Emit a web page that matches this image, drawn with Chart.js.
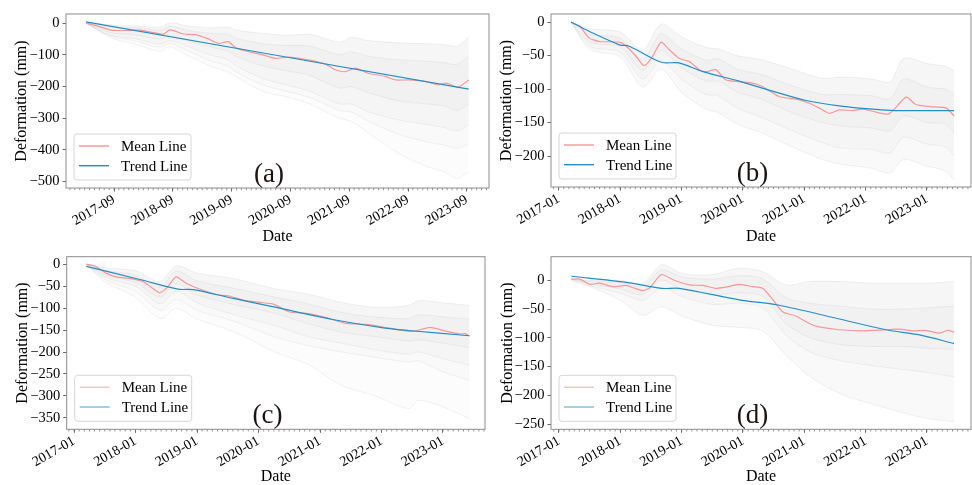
<!DOCTYPE html>
<html><head><meta charset="utf-8">
<script src="https://cdn.jsdelivr.net/npm/chart.js@4.4.1/dist/chart.umd.min.js"></script>
<style>
html,body{margin:0;padding:0;background:#fff;width:972px;height:485px;overflow:hidden;position:relative}
canvas{position:absolute}
</style></head><body>
<script>
// ---------------- DATA ----------------
const seriesNames = ['Mean Line', 'Trend Line'];
const panelLabels = ['(a)', '(b)', '(c)', '(d)'];
const yTitle = 'Deformation (mm)';
const xTitle = 'Date';

const xTickLabelsA = ['2017-09','2018-09','2019-09','2020-09','2021-09','2022-09','2023-09'];
const xTickLabelsBCD = ['2017-01','2018-01','2019-01','2020-01','2021-01','2022-01','2023-01'];
const yTicksA = [0,-100,-200,-300,-400,-500];
const yTicksB = [0,-50,-100,-150,-200];
const yTicksC = [0,-50,-100,-150,-200,-250,-300,-350];
const yTicksD = [0,-50,-100,-150,-200,-250];

// ---- panel (a) ----
const meanDatesA = [2017.19,2017.40,2017.62,2017.85,2018.10,2018.35,2018.50,2018.62,2018.85,2019.05,2019.25,2019.45,2019.61,2019.74,2020.00,2020.20,2020.41,2020.63,2020.97,2021.26,2021.43,2021.60,2021.77,2021.99,2022.28,2022.45,2022.67,2022.96,2023.18,2023.32,2023.52,2023.70];
const meanA = [1,-10,-22,-23,-22,-30,-35,-21,-34,-36,-48,-64,-58,-78,-92,-100,-111,-107,-116,-129,-147,-153,-142,-158,-168,-179,-179,-184,-195,-189,-202,-179];
const trendDatesA = [2017.19,2023.70];
const trendA = [4,-208];
const greyDatesA = [2017.19,2017.6,2018.0,2018.45,2018.62,2018.9,2019.3,2019.6,2019.75,2020.2,2020.6,2021.0,2021.5,2021.7,2022.0,2022.5,2023.0,2023.3,2023.5,2023.7];
const greyA1 = [2,-5,-8,-12,2,-8,-15,-12,-22,-32,-38,-35,-60,-45,-55,-62,-65,-68,-72,-45];
const greyA2 = [1,-12,-14,-22,-10,-22,-32,-35,-48,-65,-70,-72,-100,-90,-105,-115,-120,-125,-130,-105];
const greyA3 = [0,-30,-36,-50,-40,-55,-75,-88,-105,-135,-150,-165,-205,-200,-220,-245,-255,-262,-275,-255];
const greyA4 = [0,-38,-48,-66,-55,-72,-100,-115,-135,-175,-195,-215,-255,-255,-280,-305,-320,-330,-340,-320];
const greyA5 = [0,-40,-55,-76,-64,-85,-118,-135,-155,-195,-215,-235,-275,-280,-310,-350,-375,-385,-395,-380];
const greyA6 = [0,-45,-65,-89,-74,-100,-135,-153,-170,-215,-232,-255,-300,-310,-347,-410,-453,-470,-490,-470];

// ---- panel (b) ----
const meanDatesB = [2017.20,2017.34,2017.50,2017.66,2017.99,2018.10,2018.26,2018.37,2018.42,2018.53,2018.67,2018.80,2018.96,2019.13,2019.29,2019.40,2019.56,2019.72,2019.94,2020.16,2020.32,2020.59,2020.92,2021.08,2021.24,2021.41,2021.57,2021.79,2021.95,2022.11,2022.38,2022.66,2022.82,2023.04,2023.31,2023.44];
const meanB = [0,-6,-24,-29,-30,-36,-51,-64,-64,-51,-30,-41,-54,-59,-71,-74,-71,-86,-89,-91,-96,-111,-116,-121,-128,-136,-131,-132,-130,-133,-137,-112,-123,-126,-128,-140];
const trendDatesB = [2017.20,2017.50,2017.99,2018.15,2018.67,2018.96,2019.35,2019.94,2020.48,2021.03,2021.57,2022.11,2022.49,2023.44];
const trendB = [0,-14,-34,-36,-60,-61,-74,-88,-103,-117,-125,-130,-132,-132];
const greyDatesB = [2017.2,2017.5,2018.0,2018.37,2018.67,2019.0,2019.4,2019.6,2019.9,2020.3,2020.8,2021.3,2021.6,2022.1,2022.4,2022.62,2023.0,2023.3,2023.44];
const greyB1 = [0,-10,-15,-42,-3,-22,-38,-40,-50,-56,-70,-84,-82,-85,-89,-54,-62,-66,-72];
const greyB2 = [0,-18,-24,-55,-18,-40,-57,-55,-70,-78,-95,-108,-108,-110,-114,-85,-97,-100,-108];
const greyB3 = [0,-30,-37,-72,-42,-68,-88,-88,-104,-115,-135,-150,-155,-158,-162,-140,-150,-152,-165];
const greyB4 = [0,-36,-45,-85,-58,-85,-108,-110,-128,-142,-162,-180,-188,-190,-195,-172,-182,-186,-200];
const greyB5 = [0,-40,-52,-97,-70,-105,-130,-135,-152,-165,-186,-205,-212,-218,-225,-205,-215,-222,-235];

// ---- panel (c) ----
const meanDatesC = [2017.20,2017.34,2017.53,2017.69,2017.96,2018.13,2018.34,2018.40,2018.51,2018.66,2018.83,2019.05,2019.32,2019.54,2019.75,2020.02,2020.24,2020.51,2020.78,2021.05,2021.43,2021.76,2022.03,2022.30,2022.52,2022.79,2023.06,2023.28,2023.36,2023.43];
const meanC = [0,-4,-21,-29,-34,-40,-61,-65,-54,-29,-44,-57,-69,-73,-82,-87,-91,-109,-112,-120,-135,-137,-143,-150,-153,-144,-153,-159,-158,-164];
const trendDatesC = [2017.20,2018.07,2018.69,2018.94,2019.59,2020.27,2021.21,2022.03,2022.44,2023.43];
const trendC = [-5,-35,-57,-58,-78,-98,-126,-145,-151,-163];
const greyDatesC = [2017.2,2017.5,2018.0,2018.4,2018.66,2019.0,2019.6,2020.27,2020.8,2021.35,2021.9,2022.44,2022.6,2023.0,2023.43];
const greyC1 = [0,-8,-15,-40,-4,-20,-33,-56,-68,-87,-98,-94,-83,-88,-94];
const greyC2 = [0,-14,-25,-52,-16,-38,-55,-75,-90,-110,-120,-124,-115,-120,-125];
const greyC3 = [0,-25,-42,-75,-45,-70,-92,-112,-135,-155,-165,-175,-172,-180,-190];
const greyC4 = [0,-30,-50,-90,-62,-88,-115,-140,-165,-180,-195,-205,-200,-215,-230];
const greyC5 = [0,-35,-62,-105,-80,-105,-130,-166,-185,-200,-212,-223,-220,-245,-265];
const greyC6 = [0,-40,-75,-124,-101,-125,-154,-200,-228,-276,-300,-329,-310,-325,-352];

// ---- panel (d) ----
const meanDatesD = [2017.20,2017.34,2017.50,2017.66,2017.88,2018.10,2018.21,2018.37,2018.48,2018.67,2018.86,2019.13,2019.35,2019.56,2019.72,2019.94,2020.16,2020.32,2020.49,2020.65,2020.86,2021.08,2021.24,2021.57,2021.95,2022.33,2022.55,2022.77,2022.98,2023.20,2023.34,2023.44];
const meanD = [2,2,-7,-5,-11,-9,-13,-18,-13,10,1,-8,-9,-14,-12,-7,-11,-14,-34,-55,-62,-75,-81,-86,-88,-86,-85,-88,-87,-92,-87,-90];
const trendDatesD = [2017.20,2018.10,2018.67,2018.96,2019.94,2020.57,2021.52,2022.33,2022.88,2023.44];
const trendD = [7,-3.5,-14,-14,-34,-43,-66,-86,-95,-110];
const greyDatesD = [2017.2,2017.6,2018.0,2018.37,2018.67,2019.0,2019.5,2019.94,2020.32,2020.7,2021.1,2021.6,2022.1,2022.6,2023.0,2023.44];
const greyD1 = [2,0,0,-5,27,12,10,21,15,-8,-2,-2,-5,-5,-5,-2];
const greyD2 = [2,-2,-4,-10,18,6,2,8,3,-30,-40,-45,-50,-50,-48,-45];
const greyD3 = [2,-8,-15,-25,0,-15,-25,-22,-28,-75,-100,-112,-115,-115,-118,-120];
const greyD4 = [1,-12,-22,-35,-12,-28,-42,-40,-48,-95,-125,-140,-148,-155,-160,-168];
const greyD5 = [0,-15,-35,-61,-46,-62,-78,-82,-88,-130,-168,-198,-215,-230,-240,-246];

// ---------------- LAYOUT / STYLE ----------------
const FONT = "'Liberation Serif','Times New Roman',Times,serif";
const MEAN_COLOR = 'rgb(246,150,150)';
const TREND_COLOR = 'rgb(34,142,200)';
const GREY_LINE = 'rgba(0,0,0,0.08)';
const GREY_FILL = ['rgba(0,0,0,0)','rgba(0,0,0,0.035)','rgba(0,0,0,0.055)','rgba(0,0,0,0.04)','rgba(0,0,0,0.022)','rgba(0,0,0,0.01)'];

const layouts = [
  {left:0,   top:0,   w:492, h:245, yAxisW:66,   xAxisH:57,   padTop:14,   padRight:3, yTitlePad:14, xMin:2016.85,  xMax:2024.044, yMin:-520, yMax:29, legendAlpha:1},
  {left:492, top:0,   w:480, h:245, yAxisW:59,   xAxisH:58,   padTop:14,   padRight:1, yTitlePad:7,  xMin:2016.875, xMax:2023.717, yMin:-246, yMax:12, legendAlpha:1},
  {left:0,   top:245, w:492, h:240, yAxisW:66.7, xAxisH:55.7, padTop:11.7, padRight:7, yTitlePad:15, xMin:2016.881, xMax:2023.683, yMin:-376, yMax:17, legendAlpha:0.6},
  {left:492, top:245, w:480, h:240, yAxisW:59,   xAxisH:55.7, padTop:11.7, padRight:1, yTitlePad:8,  xMin:2016.87,  xMax:2023.718, yMin:-259, yMax:41, legendAlpha:0.6}
];

const panels = [
  {xLabels:xTickLabelsA,   yTicks:yTicksA, greyDates:greyDatesA, greys:[greyA1,greyA2,greyA3,greyA4,greyA5,greyA6], meanDates:meanDatesA, mean:meanA, trendDates:trendDatesA, trend:trendA},
  {xLabels:xTickLabelsBCD, yTicks:yTicksB, greyDates:greyDatesB, greys:[greyB1,greyB2,greyB3,greyB4,greyB5],        meanDates:meanDatesB, mean:meanB, trendDates:trendDatesB, trend:trendB},
  {xLabels:xTickLabelsBCD, yTicks:yTicksC, greyDates:greyDatesC, greys:[greyC1,greyC2,greyC3,greyC4,greyC5,greyC6], meanDates:meanDatesC, mean:meanC, trendDates:trendDatesC, trend:trendC},
  {xLabels:xTickLabelsBCD, yTicks:yTicksD, greyDates:greyDatesD, greys:[greyD1,greyD2,greyD3,greyD4,greyD5],        meanDates:meanDatesD, mean:meanD, trendDates:trendDatesD, trend:trendD}
];

function toPts(xs, ys){ return xs.map((x,i)=>({x:x, y:ys[i]})); }
function monthValue(lbl){ const p = lbl.split('-').map(Number); return p[0] + (p[1]-1)/12; }
function fmtY(v){ return v < 0 ? '\u2212' + Math.abs(v) : String(v); }
function withAlpha(rgb, a){ return rgb.replace('rgb(','rgba(').replace(')', ','+a+')'); }

const decorPlugin = {
  id: 'decor',
  afterDraw(chart, args, o){
    const ctx = chart.ctx, ca = chart.chartArea;
    const left = ca.left, right = ca.right, top = ca.top, bottom = ca.bottom;
    const xs = chart.scales.x;
    ctx.save();
    // minor (monthly) ticks
    ctx.strokeStyle = '#777'; ctx.lineWidth = 0.8;
    ctx.beginPath();
    for (let m = Math.ceil(xs.min*12); m <= Math.floor(xs.max*12); m++){
      const px = xs.getPixelForValue(m/12);
      ctx.moveTo(px, bottom); ctx.lineTo(px, bottom + 2.2);
    }
    ctx.stroke();
    // frame
    ctx.strokeStyle = '#8c8c8c'; ctx.lineWidth = 1;
    ctx.strokeRect(left, top, right-left, bottom-top);
    // legend
    const bw = 117, bh = 46, bx = left + 8, by = bottom - 8 - bh;
    ctx.beginPath();
    if (ctx.roundRect) ctx.roundRect(bx, by, bw, bh, 3); else ctx.rect(bx, by, bw, bh);
    ctx.fillStyle = 'rgba(255,255,255,0.85)'; ctx.fill();
    ctx.strokeStyle = '#d6d6d6'; ctx.lineWidth = 1; ctx.stroke();
    o.items.forEach((it, i) => {
      const y = by + 12 + i*19.7;
      ctx.strokeStyle = it.color; ctx.lineWidth = 1.4;
      ctx.beginPath(); ctx.moveTo(bx+5, y); ctx.lineTo(bx+35, y); ctx.stroke();
      ctx.fillStyle = '#000'; ctx.font = '15px ' + FONT;
      ctx.textAlign = 'left'; ctx.textBaseline = 'middle';
      ctx.fillText(it.text, bx+47, y+1);
    });
    // panel label
    ctx.font = '27px ' + FONT; ctx.fillStyle = '#1c1212';
    ctx.textAlign = 'center'; ctx.textBaseline = 'alphabetic';
    ctx.fillText(o.label, left + 0.48*(right-left), bottom - 6);
    ctx.restore();
  }
};

panels.forEach((P, k) => {
  const L = layouts[k];
  const cv = document.createElement('canvas');
  cv.width = L.w; cv.height = L.h;
  cv.style.left = L.left + 'px'; cv.style.top = L.top + 'px';
  cv.style.width = L.w + 'px'; cv.style.height = L.h + 'px';
  document.body.appendChild(cv);

  const datasets = [];
  P.greys.forEach((g, i) => {
    datasets.push({
      data: toPts(P.greyDates, g), borderColor: GREY_LINE, borderWidth: 0.8,
      backgroundColor: GREY_FILL[i], fill: i === 0 ? false : '-1',
      pointRadius: 0, tension: 0.3, order: 10
    });
  });
  datasets.push({label: seriesNames[0], data: toPts(P.meanDates, P.mean), borderColor: MEAN_COLOR, borderWidth: 1.2, pointRadius: 0, tension: 0.2, fill: false, order: 2});
  datasets.push({label: seriesNames[1], data: toPts(P.trendDates, P.trend), borderColor: TREND_COLOR, borderWidth: 1.2, pointRadius: 0, tension: 0.3, fill: false, order: 1});

  const xTickVals = P.xLabels.map(monthValue);

  new Chart(cv, {
    type: 'line',
    data: {datasets},
    options: {
      responsive: false, animation: false, devicePixelRatio: 1,
      layout: {padding: {left: 0, top: L.padTop, right: L.padRight, bottom: 0}},
      plugins: {
        legend: {display: false}, tooltip: {enabled: false},
        decor: {label: panelLabels[k], items: [
          {text: seriesNames[0], color: withAlpha(MEAN_COLOR, L.legendAlpha)},
          {text: seriesNames[1], color: withAlpha(TREND_COLOR, L.legendAlpha)}
        ]}
      },
      scales: {
        x: {
          type: 'linear', min: L.xMin, max: L.xMax,
          afterBuildTicks: s => { s.ticks = xTickVals.map(v => ({value: v})); },
          afterFit: s => { s.height = L.xAxisH; s.paddingLeft = 0; s.paddingRight = 0; },
          ticks: {autoSkip: false, maxRotation: 30, minRotation: 30, padding: 0, color: '#000',
                  font: {family: FONT, size: 14}, callback: (v, i) => P.xLabels[i]},
          grid: {drawOnChartArea: false, tickLength: 3.5, color: '#666'},
          border: {display: false},
          title: {display: true, text: xTitle, color: '#000', font: {family: FONT, size: 16, lineHeight: 1}, padding: {top: 0, bottom: 0}}
        },
        y: {
          type: 'linear', min: L.yMin, max: L.yMax,
          afterBuildTicks: s => { s.ticks = P.yTicks.map(v => ({value: v})); },
          afterFit: s => { s.width = L.yAxisW; s.paddingTop = 0; s.paddingBottom = 0; },
          ticks: {padding: 3, color: '#000', font: {family: FONT, size: 14.5}, callback: v => fmtY(v)},
          grid: {drawOnChartArea: false, tickLength: 3.5, color: '#666'},
          border: {display: false},
          title: {display: true, text: yTitle, color: '#000', font: {family: FONT, size: 16, lineHeight: 1}, padding: {top: L.yTitlePad, bottom: 0}}
        }
      }
    },
    plugins: [decorPlugin]
  });
});
</script>
</body></html>
